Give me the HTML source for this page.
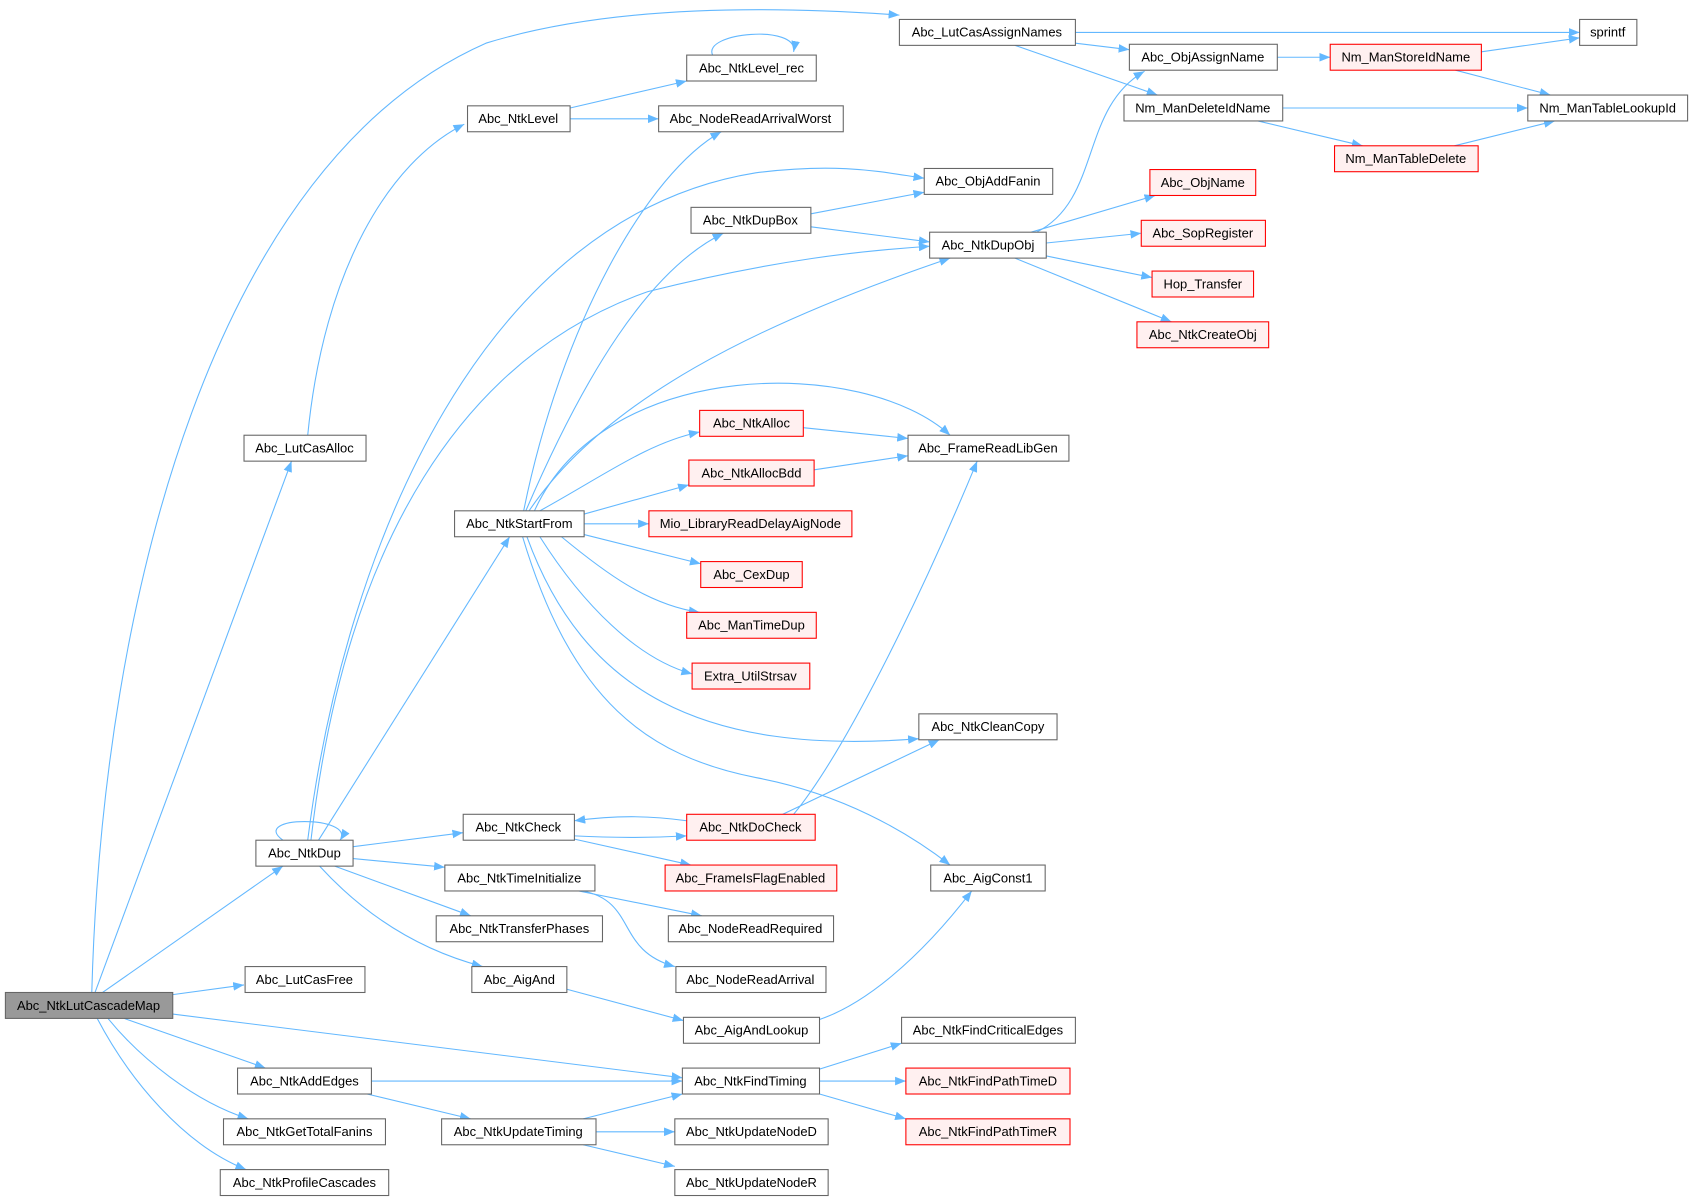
<!DOCTYPE html>
<html><head><meta charset="utf-8"><style>html,body{margin:0;padding:0;background:#fff}svg{display:block}text{font-family:"Liberation Sans",Arial,sans-serif;font-size:12px;fill:#000}</style></head><body>
<svg width="1693" height="1202" viewBox="0 0 1568 1113" preserveAspectRatio="none" xmlns="http://www.w3.org/2000/svg">
<defs><marker id="a" markerWidth="10" markerHeight="8" refX="10" refY="4" orient="auto" markerUnits="userSpaceOnUse"><path d="M0,0 L10,4 L0,8 z" fill="#63b8ff"/></marker></defs>
<g fill="none" stroke="#63b8ff" stroke-width="1" marker-end="url(#a)">
<path d="M85,919 C95,550 200,150 450,40 C580,0 750,8 833,14"/>
<path d="M88,919 L270,427"/>
<path d="M95,919 L262,802"/>
<path d="M160,921 L226,912"/>
<path d="M160,939 L632,998"/>
<path d="M115,943 L246,989"/>
<path d="M100,943 C130,980 180,1020 230,1036"/>
<path d="M90,943 C120,1000 170,1060 228,1083"/>
<path d="M285,403 C300,250 360,150 430,115"/>
<path d="M996,30 L1463,30"/>
<path d="M996,40 L1046,46"/>
<path d="M940,42 L1072,88"/>
<path d="M1183,53 L1232,53"/>
<path d="M1372,48 L1463,35"/>
<path d="M1348,65 L1436,88"/>
<path d="M1188,100 L1415,100"/>
<path d="M1165,112 L1262,135"/>
<path d="M1347,135 L1440,112"/>
<path d="M528,100 L636,75"/>
<path d="M528,110 L610,110"/>
<path d="M660,51 C650,30 740,22 735,48"/>
<path d="M751,198 L856,178"/>
<path d="M751,210 L861,224"/>
<path d="M960,215 C1020,185 1000,100 1060,66"/>
<path d="M955,215 L1070,181"/>
<path d="M969,225 L1057,216"/>
<path d="M969,237 L1067,257"/>
<path d="M940,239 L1085,298"/>
<path d="M744,396 L841,406"/>
<path d="M754,435 L841,422"/>
<path d="M485,473 C520,300 600,160 668,122"/>
<path d="M487,473 C540,350 600,250 670,216"/>
<path d="M490,473 C560,370 700,300 880,239"/>
<path d="M495,473 C560,330 800,330 880,403"/>
<path d="M500,473 C560,440 600,410 648,400"/>
<path d="M541,476 L638,449"/>
<path d="M541,485 L601,485"/>
<path d="M541,495 L649,522"/>
<path d="M520,497 C560,530 600,560 648,567"/>
<path d="M500,497 C540,560 590,610 641,624"/>
<path d="M488,497 C540,640 650,700 851,684"/>
<path d="M484,497 C530,650 600,700 700,720 C780,735 840,770 880,801"/>
<path d="M262,778 C230,755 330,755 315,778"/>
<path d="M285,778 C320,500 450,200 700,160 C780,150 820,160 856,165"/>
<path d="M288,778 C320,500 430,330 600,270 C720,240 800,232 861,228"/>
<path d="M295,778 L472,497"/>
<path d="M327,784 L429,771"/>
<path d="M327,795 L412,803"/>
<path d="M310,802 L436,848"/>
<path d="M296,802 C340,850 390,880 447,895"/>
<path d="M532,774 C570,776 600,776 636,774"/>
<path d="M636,760 C600,755 570,755 532,760"/>
<path d="M532,777 L640,801"/>
<path d="M735,754 C780,700 850,560 905,427"/>
<path d="M725,754 L870,685"/>
<path d="M536,825 L650,848"/>
<path d="M540,825 C590,835 570,880 625,895"/>
<path d="M525,916 L633,945"/>
<path d="M759,944 C800,930 850,890 900,825"/>
<path d="M344,1001 L632,1001"/>
<path d="M340,1013 L436,1036"/>
<path d="M540,1036 L632,1013"/>
<path d="M552,1048 L625,1048"/>
<path d="M540,1060 L625,1080"/>
<path d="M759,990 L835,966"/>
<path d="M759,1001 L839,1001"/>
<path d="M759,1013 L839,1036"/>
</g>
<g stroke="#666" stroke-width="1" fill="#fff">
<rect x="5" y="919" width="155" height="24" fill="#999"/>
<rect x="833" y="18" width="163" height="24"/>
<rect x="1463" y="18" width="53" height="24"/>
<rect x="1046" y="41" width="137" height="24"/>
<rect x="636" y="51" width="120" height="24"/>
<rect x="1041" y="88" width="147" height="24"/>
<rect x="1415" y="88" width="148" height="24"/>
<rect x="433" y="98" width="95" height="24"/>
<rect x="610" y="98" width="171" height="24"/>
<rect x="856" y="156" width="119" height="24"/>
<rect x="640" y="192" width="111" height="24"/>
<rect x="861" y="215" width="108" height="24"/>
<rect x="226" y="403" width="113" height="24"/>
<rect x="841" y="403" width="149" height="24"/>
<rect x="421" y="473" width="120" height="24"/>
<rect x="851" y="661" width="128" height="24"/>
<rect x="429" y="754" width="103" height="24"/>
<rect x="237" y="778" width="90" height="24"/>
<rect x="412" y="801" width="139" height="24"/>
<rect x="862" y="801" width="106" height="24"/>
<rect x="404" y="848" width="154" height="24"/>
<rect x="619" y="848" width="153" height="24"/>
<rect x="227" y="895" width="111" height="24"/>
<rect x="437" y="895" width="88" height="24"/>
<rect x="626" y="895" width="139" height="24"/>
<rect x="633" y="942" width="126" height="24"/>
<rect x="835" y="942" width="161" height="24"/>
<rect x="220" y="989" width="124" height="24"/>
<rect x="632" y="989" width="127" height="24"/>
<rect x="207" y="1036" width="150" height="24"/>
<rect x="409" y="1036" width="143" height="24"/>
<rect x="625" y="1036" width="142" height="24"/>
<rect x="204" y="1083" width="156" height="24"/>
<rect x="625" y="1083" width="142" height="24"/>
</g>
<g stroke="#f00" stroke-width="1" fill="#fff0f0">
<rect x="1232" y="41" width="140" height="24"/>
<rect x="1236" y="135" width="133" height="24"/>
<rect x="1065" y="157" width="98" height="24"/>
<rect x="1057" y="204" width="115" height="24"/>
<rect x="1067" y="251" width="94" height="24"/>
<rect x="1053" y="298" width="122" height="24"/>
<rect x="648" y="380" width="96" height="24"/>
<rect x="638" y="426" width="116" height="24"/>
<rect x="601" y="473" width="188" height="24"/>
<rect x="649" y="520" width="94" height="24"/>
<rect x="636" y="567" width="120" height="24"/>
<rect x="641" y="614" width="109" height="24"/>
<rect x="636" y="754" width="119" height="24"/>
<rect x="616" y="801" width="159" height="24"/>
<rect x="839" y="989" width="152" height="24"/>
<rect x="839" y="1036" width="152" height="24"/>
</g>
<g text-anchor="middle">
<text x="82" y="935">Abc_NtkLutCascadeMap</text>
<text x="914" y="34">Abc_LutCasAssignNames</text>
<text x="1489" y="34">sprintf</text>
<text x="1114" y="57">Abc_ObjAssignName</text>
<text x="1302" y="57">Nm_ManStoreIdName</text>
<text x="696" y="67">Abc_NtkLevel_rec</text>
<text x="1114" y="104">Nm_ManDeleteIdName</text>
<text x="1489" y="104">Nm_ManTableLookupId</text>
<text x="480" y="114">Abc_NtkLevel</text>
<text x="695" y="114">Abc_NodeReadArrivalWorst</text>
<text x="1302" y="151">Nm_ManTableDelete</text>
<text x="915" y="172">Abc_ObjAddFanin</text>
<text x="1114" y="173">Abc_ObjName</text>
<text x="695" y="208">Abc_NtkDupBox</text>
<text x="915" y="231">Abc_NtkDupObj</text>
<text x="1114" y="220">Abc_SopRegister</text>
<text x="1114" y="267">Hop_Transfer</text>
<text x="1114" y="314">Abc_NtkCreateObj</text>
<text x="696" y="396">Abc_NtkAlloc</text>
<text x="282" y="419">Abc_LutCasAlloc</text>
<text x="915" y="419">Abc_FrameReadLibGen</text>
<text x="696" y="442">Abc_NtkAllocBdd</text>
<text x="481" y="489">Abc_NtkStartFrom</text>
<text x="695" y="489">Mio_LibraryReadDelayAigNode</text>
<text x="696" y="536">Abc_CexDup</text>
<text x="696" y="583">Abc_ManTimeDup</text>
<text x="695" y="630">Extra_UtilStrsav</text>
<text x="915" y="677">Abc_NtkCleanCopy</text>
<text x="480" y="770">Abc_NtkCheck</text>
<text x="695" y="770">Abc_NtkDoCheck</text>
<text x="282" y="794">Abc_NtkDup</text>
<text x="481" y="817">Abc_NtkTimeInitialize</text>
<text x="695" y="817">Abc_FrameIsFlagEnabled</text>
<text x="915" y="817">Abc_AigConst1</text>
<text x="481" y="864">Abc_NtkTransferPhases</text>
<text x="695" y="864">Abc_NodeReadRequired</text>
<text x="282" y="911">Abc_LutCasFree</text>
<text x="481" y="911">Abc_AigAnd</text>
<text x="695" y="911">Abc_NodeReadArrival</text>
<text x="696" y="958">Abc_AigAndLookup</text>
<text x="915" y="958">Abc_NtkFindCriticalEdges</text>
<text x="282" y="1005">Abc_NtkAddEdges</text>
<text x="695" y="1005">Abc_NtkFindTiming</text>
<text x="915" y="1005">Abc_NtkFindPathTimeD</text>
<text x="282" y="1052">Abc_NtkGetTotalFanins</text>
<text x="480" y="1052">Abc_NtkUpdateTiming</text>
<text x="696" y="1052">Abc_NtkUpdateNodeD</text>
<text x="915" y="1052">Abc_NtkFindPathTimeR</text>
<text x="282" y="1099">Abc_NtkProfileCascades</text>
<text x="696" y="1099">Abc_NtkUpdateNodeR</text>
</g>
</svg>
</body></html>
